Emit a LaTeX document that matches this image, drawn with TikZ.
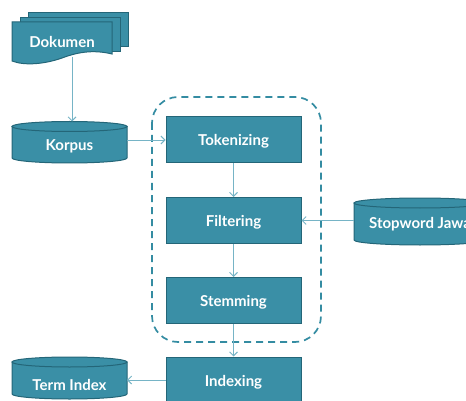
\documentclass[tikz,border=0pt]{standalone}
\usepackage{fontspec}
\setmainfont{Lato}
\usetikzlibrary{arrows.meta}
\definecolor{boxfill}{RGB}{58,143,166}
\definecolor{boxline}{RGB}{36,102,120}
\definecolor{arrcol}{RGB}{118,180,198}
\definecolor{dashcol}{RGB}{52,140,162}
\begin{document}
\begin{tikzpicture}[x=1pt,y=-1pt,
  lbl/.style={text=white, inner sep=0pt, text height=12pt, text depth=0pt,
    font=\bfseries\fontsize{15}{17}\selectfont},
  proc/.style={lbl, draw=boxline, fill=boxfill, line width=1pt,
    minimum width=135pt, minimum height=46pt},
  cylpart/.style={fill=boxfill, draw=boxline, line width=1pt},
  arr/.style={draw=arrcol, line width=0.9pt, -{Straight Barb[length=4pt,width=8pt]}},
  grp/.style={draw=dashcol, line width=1.7pt, dash pattern=on 7pt off 5pt, rounded corners=26pt}]
\useasboundingbox (0,0) rectangle (466,401);
\clip (0,0) rectangle (466,401);

% Dokumen (multi-document)
\path[cylpart] (28,13) rectangle (128,47);
\path[cylpart] (20,18) rectangle (120,52);
\path[cylpart] (12,22) -- (112,22) -- (112,54)
  .. controls (92,49) and (75,53) .. (62,58)
  .. controls (45,64) and (25,66) .. (12,61) -- cycle;
\node[lbl] (dok) at (62,41.7) {Dokumen};
\coordinate (dokbot) at (72,57);

% Korpus cylinder
\path[cylpart] (12,126.5) -- (12,158) arc[start angle=180,end angle=0,x radius=57.5,y radius=5] -- (127,126.5) -- cycle;
\path[cylpart] (69.5,126.5) ellipse[x radius=57.5,y radius=5];
\node[lbl] (korpus) at (69.5,144) {Korpus};
\coordinate (korpustop) at (69.5,121.5);
\coordinate (korpusright) at (127,140);

% Stopword Jawa cylinder
\path[cylpart] (354,203) -- (354,240) arc[start angle=180,end angle=0,x radius=66,y radius=5] -- (486,203) -- cycle;
\path[cylpart] (420,203) ellipse[x radius=66,y radius=5];
\node[lbl] (stop) at (420,222) {Stopword Jawa};
\coordinate (stopleft) at (354,220.5);

% Term Index cylinder
\path[cylpart] (12,362) -- (12,394) arc[start angle=180,end angle=0,x radius=57.5,y radius=5] -- (127,362) -- cycle;
\path[cylpart] (69.5,362) ellipse[x radius=57.5,y radius=5];
\node[lbl] (term) at (69.5,384) {Term Index};
\coordinate (termright) at (127,380);

% group
\draw[grp] (152,97) rectangle (321,342);

% process boxes
\node[proc] (tok) at (233.5,140) {Tokenizing};
\node[proc] (fil) at (233.5,220.5) {Filtering};
\node[proc] (stem) at (233.5,300.5) {Stemming};
\node[proc] (idx) at (233.5,380) {Indexing};

% connectors
\draw[arr] (dokbot) -- (dokbot |- korpustop);
\draw[arr] (korpusright) -- (tok.west);
\draw[arr] (tok) -- (fil);
\draw[arr] (stopleft) -- (fil.east);
\draw[arr] (fil) -- (stem);
\draw[arr] (stem) -- (idx);
\draw[arr] (idx.west) -- (termright);
\end{tikzpicture}
\end{document}
